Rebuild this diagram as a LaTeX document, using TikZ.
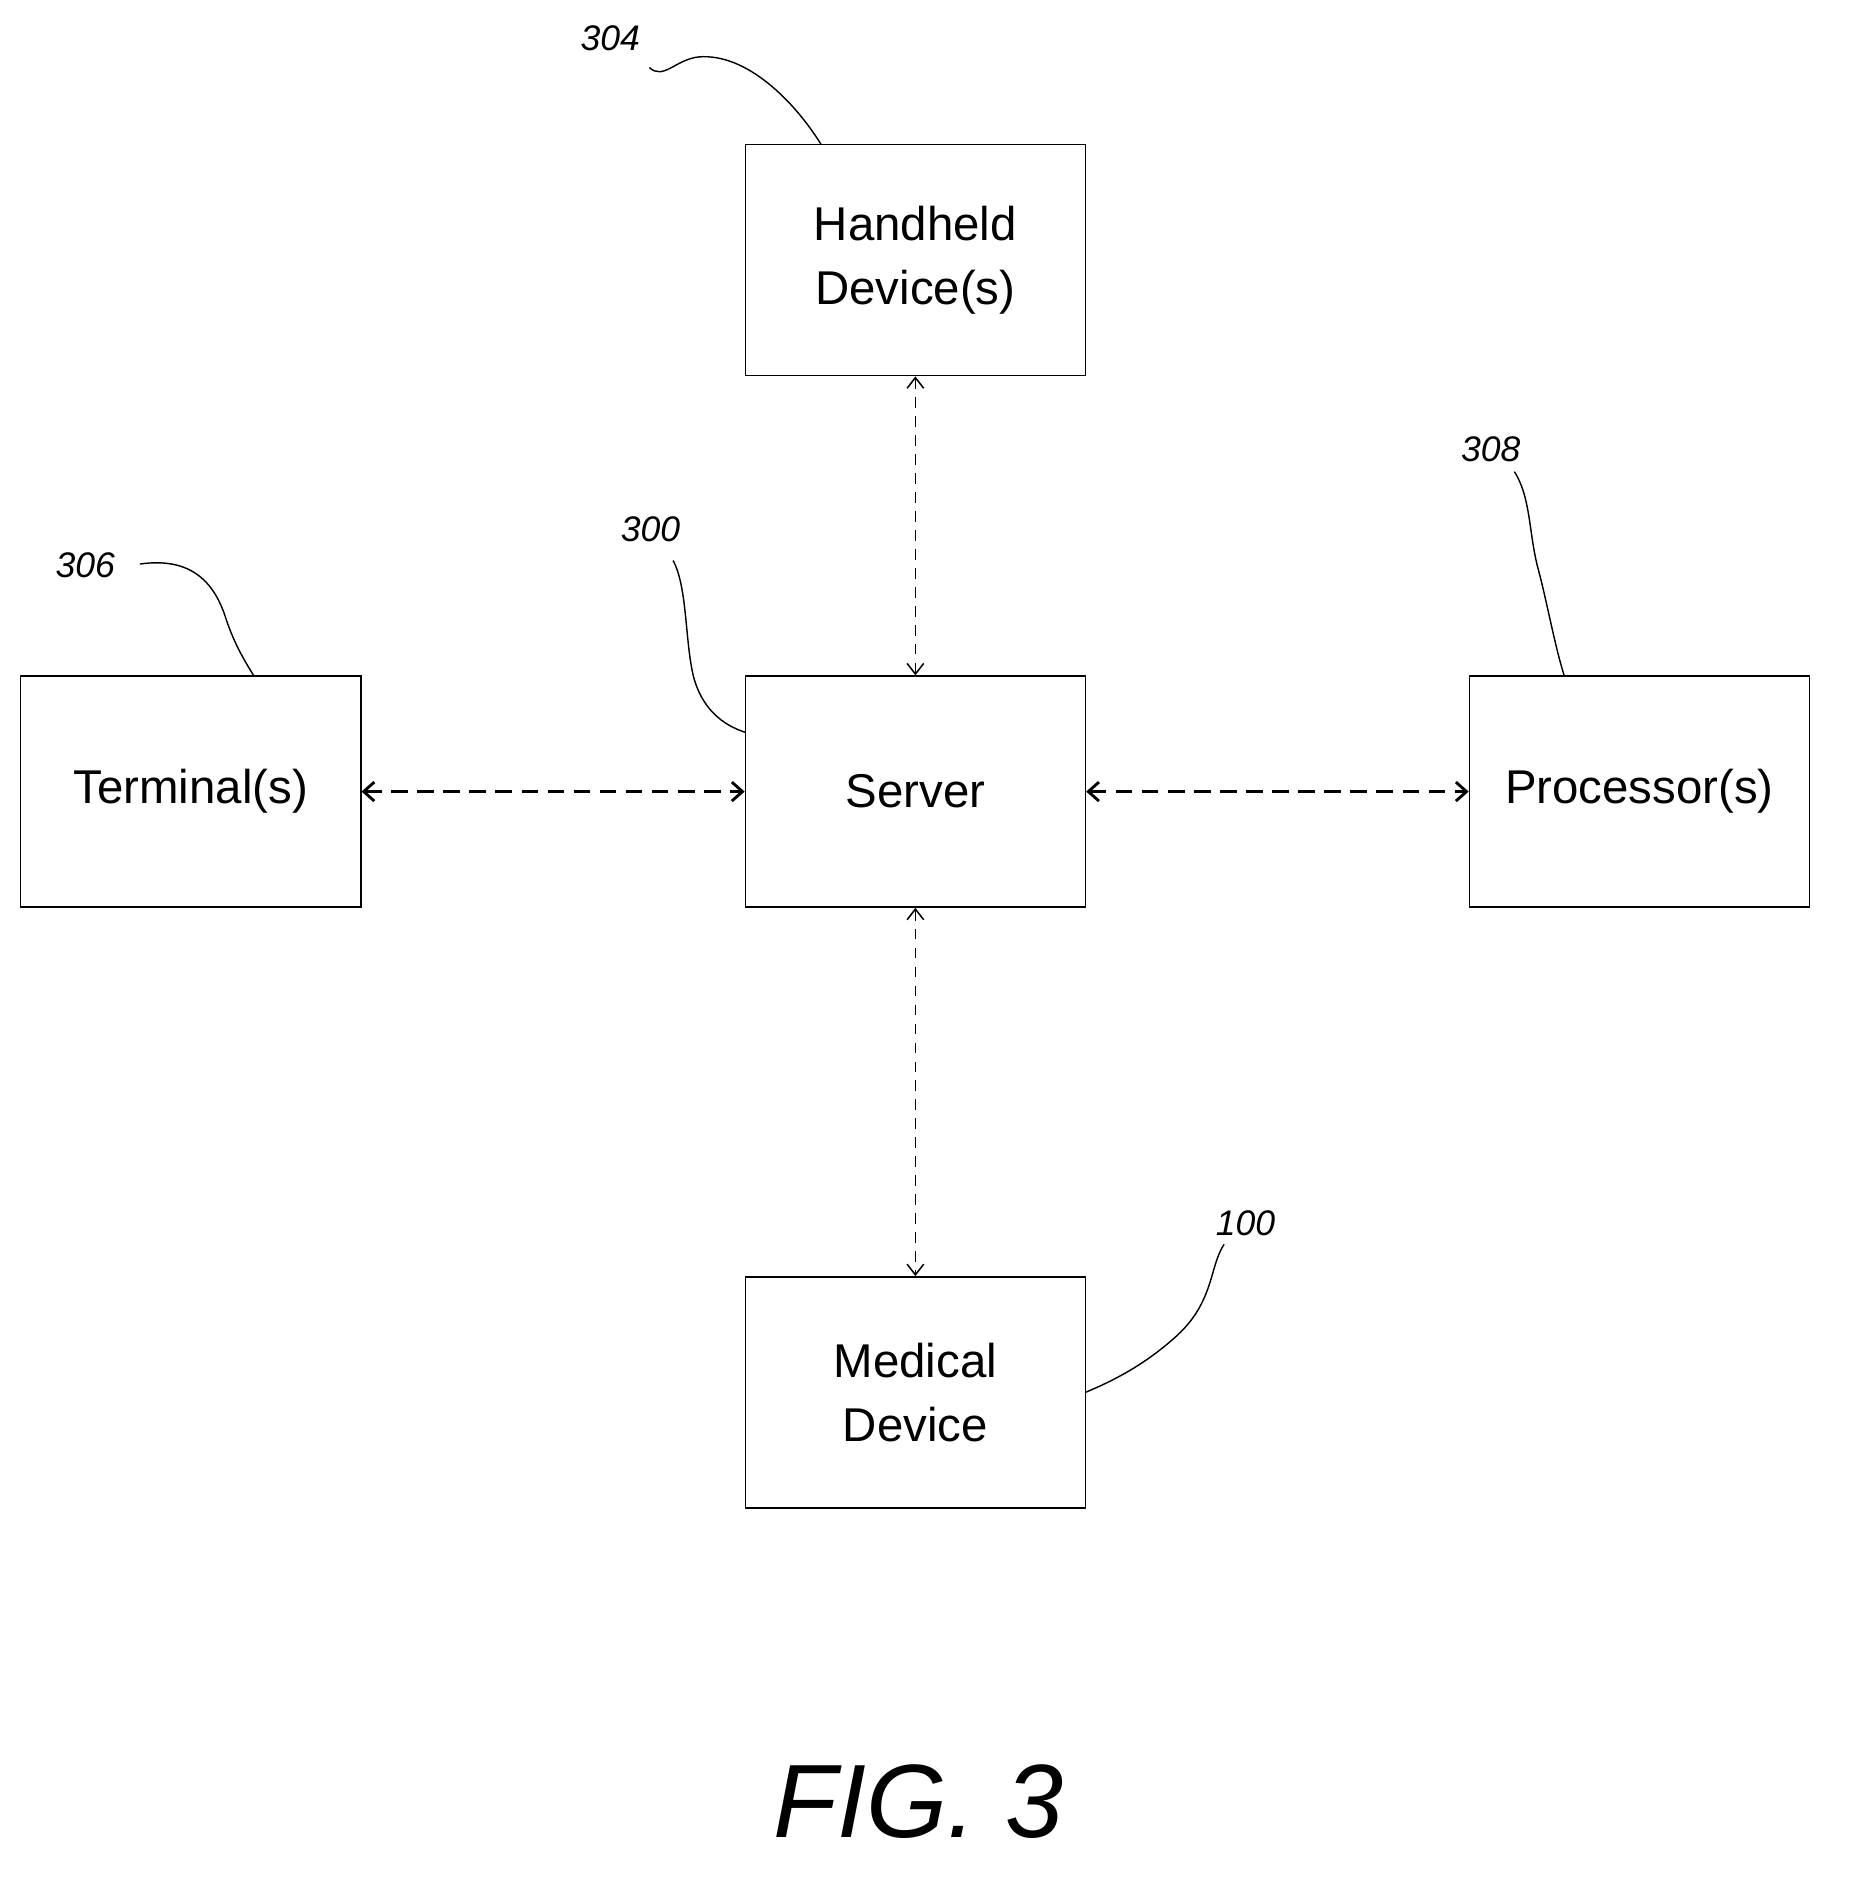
\documentclass[tikz,border=0pt]{standalone}
\usepackage{fontspec}
\setmainfont{Liberation Sans}
\usetikzlibrary{arrows.meta}
\begin{document}
\begin{tikzpicture}[x=1pt,y=-1pt,
 box/.style={draw,line width=1.2pt,minimum width=287pt,minimum height=195pt,align=center,font=\fontsize{40}{54}\selectfont,inner sep=0pt},
 lbl/.style={font=\itshape\fontsize{30}{30}\selectfont},
 lead/.style={line width=1.2pt},
 vc/.style={dashed,dash pattern=on 9pt off 7pt,line width=1.3pt,{Straight Barb[length=9pt,width=14pt]}-{Straight Barb[length=9pt,width=14pt]}},
 hc/.style={dashed,dash pattern=on 14pt off 8pt,line width=2.4pt,{Straight Barb[length=9pt,width=16pt]}-{Straight Barb[length=9pt,width=16pt]}}]
\useasboundingbox (0,0) rectangle (1560,1584);
\node[box] (hh) at (772.5,219.5) {Handheld\\Device(s)};
\node[box] (sv) at (772.5,668) {Server};
\node[box] (tm) at (161,668) {Terminal(s)};
\node[box] (pr) at (1383.5,668) {Processor(s)};
\node[box] (md) at (772.5,1175) {Medical\\Device};
\draw[vc] (hh.south) -- (sv.north);
\draw[vc] (sv.south) -- (md.north);
\draw[hc] (tm.east) -- (sv.west);
\draw[hc] (sv.east) -- (pr.west);
\node[lbl] (l304) at (515,32) {304};
\node[lbl] (l306) at (72,477) {306};
\node[lbl] (l300) at (549,447) {300};
\node[lbl] (l308) at (1258,379) {308};
\node[lbl] (l100) at (1051,1032) {100};
\node[font=\itshape\fontsize{88}{88}\selectfont] (fig) at (775,1520) {FIG. 3};
\coordinate (a304) at (693,122);
\coordinate (a306) at (214,570);
\coordinate (a300) at (629,618);
\coordinate (a308) at (1320,570);
\coordinate (a100) at (916,1175);
\draw[lead] (548,57) .. controls (560,68) and (570,50) .. (590,48) .. controls (630,45) and (670,85) .. (a304);
\draw[lead] (118,476) .. controls (160,470) and (180,490) .. (190,520) .. controls (198,545) and (208,560) .. (a306);
\draw[lead] (568,473) .. controls (580,495) and (578,540) .. (585,570) .. controls (592,598) and (610,612) .. (a300);
\draw[lead] (1278,398) .. controls (1292,420) and (1290,450) .. (1298,480) .. controls (1306,510) and (1312,545) .. (a308);
\draw[lead] (1033,1050) .. controls (1020,1070) and (1025,1100) .. (990,1130) .. controls (965,1152) and (940,1165) .. (a100);
\end{tikzpicture}
\end{document}
